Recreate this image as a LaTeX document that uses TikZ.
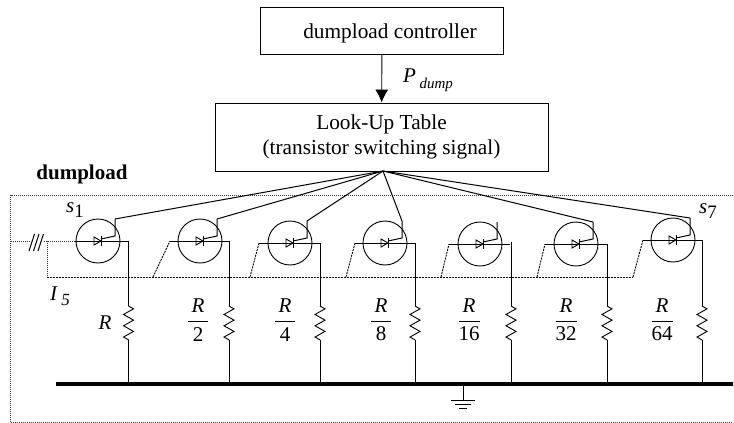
\documentclass[tikz,border=0pt]{standalone}
\usepackage{amsmath}
\usepackage{fontspec}
\setmainfont{Liberation Serif}
\usetikzlibrary{arrows.meta, decorations.pathmorphing}
\newcommand{\ratio}[1]{$\dfrac{\mbox{\,\textit{R}\,}}{\mbox{#1}}$}
\tikzset{
  txt/.style={font=\fontsize{21}{25}\selectfont, inner sep=0pt},
  block/.style={draw, line width=0.9pt, inner sep=0pt, align=center, font=\fontsize{21.3}{25}\selectfont},
  wire/.style={line width=1pt},
  ctrl/.style={line width=1pt},
  frame/.style={line width=0.9pt, dash pattern=on 1pt off 1pt, black!80},
  feed/.style={line width=0.9pt, dash pattern=on 2pt off 1pt},
  valve/.style={circle, draw, line width=0.9pt, minimum width=44pt, inner sep=0pt},
  res/.style={line width=0.9pt, decorate, decoration={zigzag, segment length=11.3pt, amplitude=5pt}},
  pics/thyr/.style={code={
    \draw[line width=0.9pt] (-4,-4) -- (-4,4) -- (3,0) -- cycle;
    \draw[line width=1pt] (3,-5) -- (3,5);
    \coordinate (-top) at (17,-22);
    \draw[ctrl] (3,-2) -- (17,-5) -- (-top);
  }}
}

\begin{document}
\begin{tikzpicture}[x=1pt, y=-1pt]
      \useasboundingbox (0,0) rectangle (734,423);
      \node (ctl)[block, minimum width=243pt, minimum height=47pt, text depth=5pt, text height=20pt] at (382, 30.5) {\hspace*{16pt}dumpload controller};
      \node (lut)[block, minimum width=333pt, minimum height=68pt] at (381.5, 137) {Look-Up Table\\(transistor switching signal)};
      \draw[line width=0.9pt, -{Latex[length=13pt, width=13pt]}] (ctl) -- (lut);
      \node (pd)[txt, anchor=west] at (403, 80) {\textit{P}\,\raisebox{-6pt}{\fontsize{15}{15}\selectfont\textit{dump}}};
      \node (dl)[txt, font=\fontsize{21}{23}\selectfont\bfseries] at (82, 174) {dumpload};

      % frame
      \coordinate (fa) at (10.5, 195);
      \coordinate (fb) at (733, 195);
      \coordinate (fc) at (733, 422);
      \coordinate (fd) at (10.5, 422);
      \draw[frame] (fb) -- (fa) -- (fd) -- (fc);

      % thyristors
      \node (t1)[valve] at (98, 241) {};
      \node (t2)[valve] at (200, 241) {};
      \node (t3)[valve] at (290, 243) {};
      \node (t4)[valve] at (385, 243) {};
      \node (t5)[valve] at (480, 244) {};
      \node (t6)[valve] at (576, 244) {};
      \node (t7)[valve] at (673, 240) {};
      \pic (s1) at (t1) {thyr};
      \pic (s2) at (t2) {thyr};
      \pic (s3) at (t3) {thyr};
      \pic (s4) at (t4) {thyr};
      \pic (s5) at (t5) {thyr};
      \pic (s6) at (t6) {thyr};
      \pic (s7) at (t7) {thyr};
      \node (l1)[txt] at (75, 210) {\textit{s}\raisebox{-5pt}{\fontsize{19}{19}\selectfont 1}};
      \node (l7)[txt] at (708, 211) {\textit{s}\raisebox{-5pt}{\fontsize{19}{19}\selectfont 7}};

      % gate lines
      \coordinate (fan) at (383, 171);
      \draw[ctrl] (fan) -- (s1-top);
      \draw[ctrl] (fan) -- (s2-top);
      \draw[ctrl] (fan) -- (s3-top);
      \draw[ctrl] (fan) -- (s4-top);
      \draw[ctrl] (fan) -- (s6-top);
      \draw[ctrl] (fan) -- (s7-top);

      % feed
      \coordinate (in) at (10.5, 241);
      \coordinate (ia) at (29, 241);
      \coordinate (ib) at (44, 241);
      \coordinate (ic) at (47, 241);
      \coordinate (id) at (75, 241);
      \coordinate (ie) at (47, 277);
      \coordinate (if) at (633, 277);
      \draw[frame] (in) -- (ia);
      \draw[frame] (ib) -- (id);
      \draw[frame] (ic) -- (ie);
      \draw[feed] (ie) -- (if);
      \draw[ctrl] (29, 251) -- (34.5, 234);
      \draw[ctrl] (33.5, 251) -- (39, 234);
      \draw[ctrl] (38, 251) -- (43.5, 234);
      \draw[feed] (153, 277) -- (170, 241);
      \draw[feed] (250, 277) -- (259, 243);
      \draw[feed] (346, 277) -- (355, 243);
      \draw[feed] (441, 277) -- (449, 244);
      \draw[feed] (537, 277) -- (545, 244);
      \draw[feed] (if) -- (643, 240);

      % top of each branch
      \coordinate (w1) at (128.5, 241);
      \coordinate (w2) at (229, 241);
      \coordinate (w3) at (320, 243);
      \coordinate (w4) at (415, 243);
      \coordinate (w5) at (511, 242);
      \coordinate (w6) at (607, 244);
      \coordinate (w7) at (702, 240);
      \draw[wire] (id) -- (w1);
      \draw[wire] (170, 241) -- (w2);
      \draw[wire] (259, 243) -- (w3);
      \draw[wire] (355, 243) -- (w4);
      \draw[wire] (449, 244) -- (509.5, 244);
      \draw[wire] (545, 244) -- (w6);
      \draw[wire] (643, 240) -- (w7);

      % resistors
      \coordinate (a1) at (128.5, 306);
      \coordinate (a2) at (229, 306);
      \coordinate (a3) at (320, 306);
      \coordinate (a4) at (415, 306);
      \coordinate (a5) at (511, 306);
      \coordinate (a6) at (607, 306);
      \coordinate (a7) at (702, 306);
      \coordinate (c1) at (128.5, 340);
      \coordinate (c2) at (229, 340);
      \coordinate (c3) at (320, 340);
      \coordinate (c4) at (415, 340);
      \coordinate (c5) at (511, 340);
      \coordinate (c6) at (607, 340);
      \coordinate (c7) at (702, 340);
      \coordinate (b1) at (128.5, 384);
      \coordinate (b2) at (229, 384);
      \coordinate (b3) at (320, 384);
      \coordinate (b4) at (415, 384);
      \coordinate (b5) at (511, 384);
      \coordinate (b6) at (607, 384);
      \coordinate (b7) at (702, 384);
      \draw[wire] (w1) -- (a1);
      \draw[wire] (w2) -- (a2);
      \draw[wire] (w3) -- (a3);
      \draw[wire] (w4) -- (a4);
      \draw[wire] (w5) -- (a5);
      \draw[wire] (w6) -- (a6);
      \draw[wire] (w7) -- (a7);
      \draw[res] (a1) -- (c1);
      \draw[res] (a2) -- (c2);
      \draw[res] (a3) -- (c3);
      \draw[res] (a4) -- (c4);
      \draw[res] (a5) -- (c5);
      \draw[res] (a6) -- (c6);
      \draw[res] (a7) -- (c7);
      \draw[wire] (c1) -- (b1);
      \draw[wire] (c2) -- (b2);
      \draw[wire] (c3) -- (b3);
      \draw[wire] (c4) -- (b4);
      \draw[wire] (c5) -- (b5);
      \draw[wire] (c6) -- (b6);
      \draw[wire] (c7) -- (b7);

      % labels
      \node (i5)[txt] at (60, 296) {\textit{I}\,\raisebox{-5pt}{\fontsize{17}{17}\selectfont\textit{5}}};
      \node (r1)[txt] at (105, 323) {\textit{R}};
      \node (r2)[txt] at (198, 320) {\ratio{2}};
      \node (r3)[txt] at (285, 320) {\ratio{4}};
      \node (r4)[txt] at (381, 320) {\ratio{8}};
      \node (r5)[txt] at (469, 320) {\ratio{16}};
      \node (r6)[txt] at (566, 320) {\ratio{32}};
      \node (r7)[txt] at (662, 320) {\ratio{64}};

      % bus and ground
      \coordinate (ba) at (56, 384);
      \coordinate (bb) at (733, 384);
      \coordinate (ga) at (463, 384);
      \coordinate (gb) at (463, 400);
      \draw[line width=4pt] (ba) -- (bb);
      \draw[wire] (ga) -- (gb);
      \draw[wire] (451, 400) -- (475, 400);
      \draw[wire] (455, 404) -- (471, 404);
      \draw[wire] (459, 408) -- (467, 408);
    \end{tikzpicture}
\end{document}
